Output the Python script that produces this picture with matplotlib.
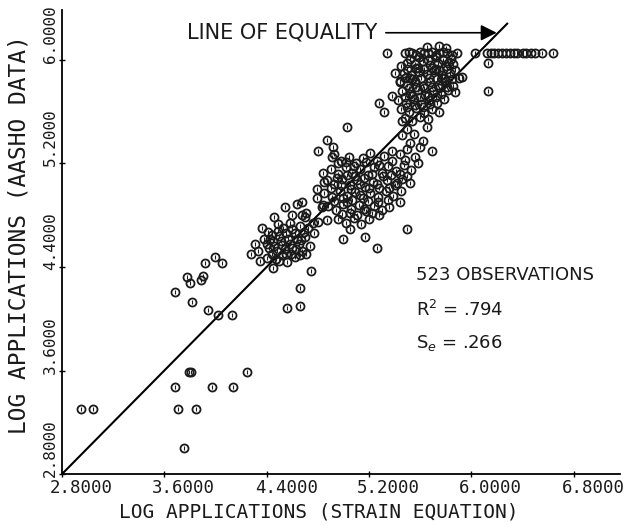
import numpy as np
import matplotlib.pyplot as plt
from matplotlib import transforms

# Points (log applications)
# top row: observations that sit on the 6.05 ceiling
row_x = [5.34, 5.48, 5.51, 5.54, 5.57, 5.60, 5.63, 5.66, 5.69, 5.72, 5.75, 5.78,
         5.81, 5.85, 5.89, 6.03, 6.12, 6.15, 6.18, 6.21, 6.24, 6.27, 6.30, 6.33,
         6.36, 6.40, 6.43, 6.47, 6.50, 6.55, 6.64, 5.65, 5.75, 5.80, 6.13]
row_y = [6.05, 6.05, 6.06, 6.05, 6.04, 6.06, 6.05, 6.05, 6.06, 6.04, 6.05, 6.06,
         6.05, 6.04, 6.05, 6.05, 6.05, 6.05, 6.05, 6.05, 6.05, 6.05, 6.05, 6.05,
         6.05, 6.05, 6.05, 6.05, 6.05, 6.05, 6.05, 6.10, 6.11, 6.09, 5.98]

upper_x = [5.45, 5.50, 5.56, 5.62, 5.68, 5.74, 5.80, 5.86, 5.47, 5.53, 5.59, 5.65,
           5.71, 5.77, 5.83, 5.90, 5.44, 5.50, 5.56, 5.62, 5.68, 5.74, 5.80, 5.86,
           5.46, 5.52, 5.58, 5.64, 5.70, 5.76, 5.82, 5.43, 5.49, 5.55, 5.61, 5.67,
           5.73, 5.79, 5.45, 5.51, 5.57, 5.63, 5.69, 5.75, 5.48, 5.54, 5.60, 5.66,
           5.87, 5.93, 5.82, 5.65, 5.50, 5.46, 5.32, 5.28, 5.44, 5.38, 5.40, 6.13,
           5.72, 5.58, 5.77, 5.52,
           5.52, 5.59, 5.66, 5.72, 5.78, 5.84, 5.50, 5.57, 5.63, 5.69, 5.75, 5.81,
           5.87, 5.48, 5.54, 5.61, 5.67, 5.73, 5.79, 5.85, 5.51, 5.57, 5.63, 5.69,
           5.75, 5.81, 5.48, 5.54, 5.60, 5.66, 5.72, 5.50, 5.56, 5.62, 5.68]
upper_y = [5.95, 5.98, 5.97, 5.99, 5.96, 5.98, 5.95, 5.97, 5.90, 5.88, 5.91, 5.89,
           5.92, 5.88, 5.90, 5.86, 5.83, 5.81, 5.84, 5.80, 5.83, 5.81, 5.84, 5.80,
           5.76, 5.74, 5.77, 5.73, 5.76, 5.74, 5.77, 5.69, 5.67, 5.70, 5.66, 5.69,
           5.67, 5.70, 5.62, 5.60, 5.63, 5.59, 5.62, 5.60, 5.55, 5.53, 5.56, 5.54,
           5.75, 5.87, 5.98, 5.48, 5.47, 5.53, 5.60, 5.67, 5.84, 5.72, 5.90, 5.76,
           5.93, 5.94, 5.86, 5.86,
           6.01, 6.02, 6.00, 6.02, 6.00, 6.01, 5.93, 5.94, 5.93, 5.94, 5.92, 5.93,
           5.92, 5.86, 5.85, 5.86, 5.86, 5.85, 5.86, 5.85, 5.78, 5.79, 5.78, 5.79,
           5.78, 5.79, 5.71, 5.72, 5.71, 5.72, 5.71, 5.64, 5.65, 5.64, 5.66]

middle_x = [4.93, 4.98, 5.04, 5.10, 5.15, 5.21, 5.26, 5.32, 5.38, 5.44, 5.50, 5.56,
            5.60, 4.90, 4.96, 5.02, 5.07, 5.13, 5.19, 5.24, 5.30, 5.35, 5.41, 5.47,
            5.53, 5.58, 4.87, 4.93, 4.99, 5.05, 5.11, 5.17, 5.23, 5.28, 5.34, 5.40,
            5.46, 5.52, 4.85, 4.91, 4.97, 5.03, 5.09, 5.15, 5.21, 5.27, 5.33, 5.39,
            5.45, 4.88, 4.94, 5.00, 5.06, 5.12, 5.18, 5.24, 5.30, 4.96, 5.02, 5.08,
            5.14, 5.20, 5.03, 4.92, 4.91, 4.84, 4.85, 4.79, 4.79, 4.68, 4.70, 4.76,
            4.83, 5.17, 5.50, 5.36, 5.28, 5.44, 5.26, 5.05, 5.00, 4.87, 4.71, 4.84,
            5.03, 5.52, 5.62, 5.69, 5.46, 5.55, 4.80, 4.87,
            4.96, 5.02, 5.08, 5.18, 5.28, 5.38, 5.48, 4.95, 5.03, 5.09, 5.16, 5.22,
            5.31, 5.37, 5.44, 5.50, 4.90, 4.98, 5.06, 5.13, 5.20, 5.26, 5.36, 5.42,
            4.93, 5.00, 5.07, 5.13, 5.19, 5.27, 5.35, 4.99, 5.05, 5.11, 5.16, 5.22]
middle_y = [5.27, 5.22, 5.25, 5.20, 5.24, 5.28, 5.22, 5.26, 5.30, 5.27, 5.31, 5.25,
            5.33, 5.16, 5.12, 5.17, 5.13, 5.16, 5.11, 5.17, 5.13, 5.18, 5.14, 5.19,
            5.15, 5.20, 5.07, 5.04, 5.08, 5.03, 5.07, 5.02, 5.06, 5.01, 5.07, 5.03,
            5.08, 5.05, 4.97, 4.94, 4.99, 4.95, 4.98, 4.93, 4.97, 4.94, 4.99, 4.95,
            4.99, 4.87, 4.84, 4.89, 4.85, 4.88, 4.83, 4.87, 4.84, 4.77, 4.74, 4.78,
            4.73, 4.77, 5.48, 5.33, 5.25, 5.13, 5.06, 5.00, 4.93, 4.90, 4.79, 4.74,
            4.86, 4.63, 4.69, 4.86, 4.80, 4.90, 4.55, 4.69, 4.62, 4.76, 4.82, 4.88,
            4.90, 5.36, 5.37, 5.30, 5.42, 5.43, 5.30, 5.38,
            5.20, 5.21, 5.18, 5.21, 5.19, 5.22, 5.23, 5.09, 5.11, 5.10, 5.09, 5.12,
            5.10, 5.11, 5.12, 5.10, 5.01, 5.03, 5.00, 5.04, 5.01, 5.04, 5.01, 5.05,
            4.91, 4.93, 4.92, 4.96, 4.91, 4.90, 4.92, 4.81, 4.82, 4.80, 4.85, 4.82]

lower_x = [4.31, 4.33, 4.41, 4.46, 4.54, 4.64, 4.38, 4.42, 4.45, 4.48, 4.50, 4.52,
           4.55, 4.57, 4.60, 4.62, 4.65, 4.68, 4.70, 4.72, 4.44, 4.47, 4.53, 4.58,
           4.62, 4.66, 4.74, 4.77, 4.50, 4.40, 4.36, 4.60, 4.68, 4.80, 4.56, 4.49,
           4.43, 4.64, 4.71, 4.35, 4.28, 4.45,
           4.40, 4.46, 4.51, 4.54, 4.58, 4.63, 4.67, 4.44, 4.49, 4.55, 4.60, 4.69,
           4.52, 4.59, 4.66]
lower_y = [4.58, 4.52, 4.67, 4.79, 4.86, 4.89, 4.62, 4.55, 4.60, 4.52, 4.64, 4.57,
           4.50, 4.62, 4.55, 4.66, 4.58, 4.52, 4.63, 4.70, 4.50, 4.46, 4.70, 4.74,
           4.48, 4.72, 4.56, 4.66, 4.45, 4.47, 4.70, 4.80, 4.80, 4.75, 4.44, 4.73,
           4.62, 4.62, 4.50, 4.45, 4.50, 4.39,
           4.58, 4.56, 4.60, 4.54, 4.58, 4.54, 4.61, 4.65, 4.68, 4.66, 4.69, 4.67,
           4.49, 4.50, 4.49]

scatter_x = [2.95, 3.04, 3.75, 3.71, 3.85, 3.68, 3.97, 4.14, 3.79, 3.81, 4.25, 3.68,
             3.78, 3.80, 3.89, 3.90, 3.92, 4.00, 4.05, 3.82, 3.94, 4.02, 4.13, 4.56,
             4.66, 4.66, 4.75]
scatter_y = [3.30, 3.30, 3.00, 3.30, 3.30, 3.47, 3.47, 3.47, 3.59, 3.59, 3.59, 4.21,
             4.32, 4.28, 4.30, 4.33, 4.43, 4.48, 4.43, 4.13, 4.07, 4.03, 4.03, 4.08,
             4.10, 4.24, 4.37]

x_ticks = [2.8, 3.6, 4.4, 5.2, 6.0, 6.8]
y_ticks = [2.8, 3.6, 4.4, 5.2, 6.0]

xs = np.array(row_x + upper_x + middle_x + lower_x + scatter_x)
ys = np.array(row_y + upper_y + middle_y + lower_y + scatter_y)

plot_font = 'DejaVu Sans Mono'
ink = '#1a1a1a'

fig = plt.figure(figsize=(6.26, 5.25), dpi=100)
ax = fig.add_axes([0.099, 0.097, 0.891, 0.884])

ax.plot(xs, ys, 'o', ms=5.8, mfc='none', mec=ink, mew=1.3, zorder=3)
ax.plot(xs, ys, '|', ms=2.5, mew=0.8, color=ink, zorder=4)

# line of equality
ax.plot([2.8, 6.28], [2.8, 6.28], color='black', lw=1.5, zorder=2)
ax.annotate('', xy=(6.22, 6.21), xytext=(5.31, 6.21),
            arrowprops=dict(arrowstyle='-|>', mutation_scale=24, lw=1.2, color='black'))
ax.text(3.78, 6.21, 'LINE OF EQUALITY', fontsize=15, va='center', ha='left', color=ink)

ax.text(5.57, 4.34, '523 OBSERVATIONS', fontsize=13, va='center', color=ink)
ax.text(5.57, 4.07, r'R$^2$ = .794', fontsize=13, va='center', color=ink)
ax.text(5.57, 3.81, r'S$_e$ = .266', fontsize=13, va='center', color=ink)

ax.set_xlim(2.8, 7.16)
ax.set_ylim(2.8, 6.386)
ax.spines['top'].set_visible(False)
ax.spines['right'].set_visible(False)
for s in ['left', 'bottom']:
    ax.spines[s].set_linewidth(1.3)

ax.set_xticks(x_ticks)
ax.set_yticks(y_ticks)
ax.set_xticklabels([])
ax.set_yticklabels([])
ax.tick_params(direction='inout', length=5, width=1)

# plotter style tick labels: they start near the tick instead of being centred
xoff = transforms.ScaledTranslation(-0.12, -0.05, fig.dpi_scale_trans)
xtr = transforms.blended_transform_factory(ax.transData, ax.transAxes) + xoff
for v in x_ticks:
    ax.text(v, 0, '%.4f' % v, transform=xtr, ha='left', va='top',
            fontfamily=plot_font, fontsize=12.5, color=ink)
yoff = transforms.ScaledTranslation(-0.04, -0.03, fig.dpi_scale_trans)
ytr = transforms.blended_transform_factory(ax.transAxes, ax.transData) + yoff
for v in y_ticks:
    ax.text(0, v, '%.4f' % v, transform=ytr, ha='right', va='bottom', rotation=90,
            fontfamily=plot_font, fontsize=11.5, color=ink)

ax.set_xlabel('LOG APPLICATIONS (STRAIN EQUATION)', fontfamily=plot_font, fontsize=14, color=ink)
ax.set_ylabel('LOG APPLICATIONS (AASHO DATA)', fontfamily=plot_font, fontsize=16.5, color=ink)
ax.xaxis.set_label_coords(0.46, -0.062)
ax.yaxis.set_label_coords(-0.057, 0.515)

fig.savefig('out.png', dpi=100)
